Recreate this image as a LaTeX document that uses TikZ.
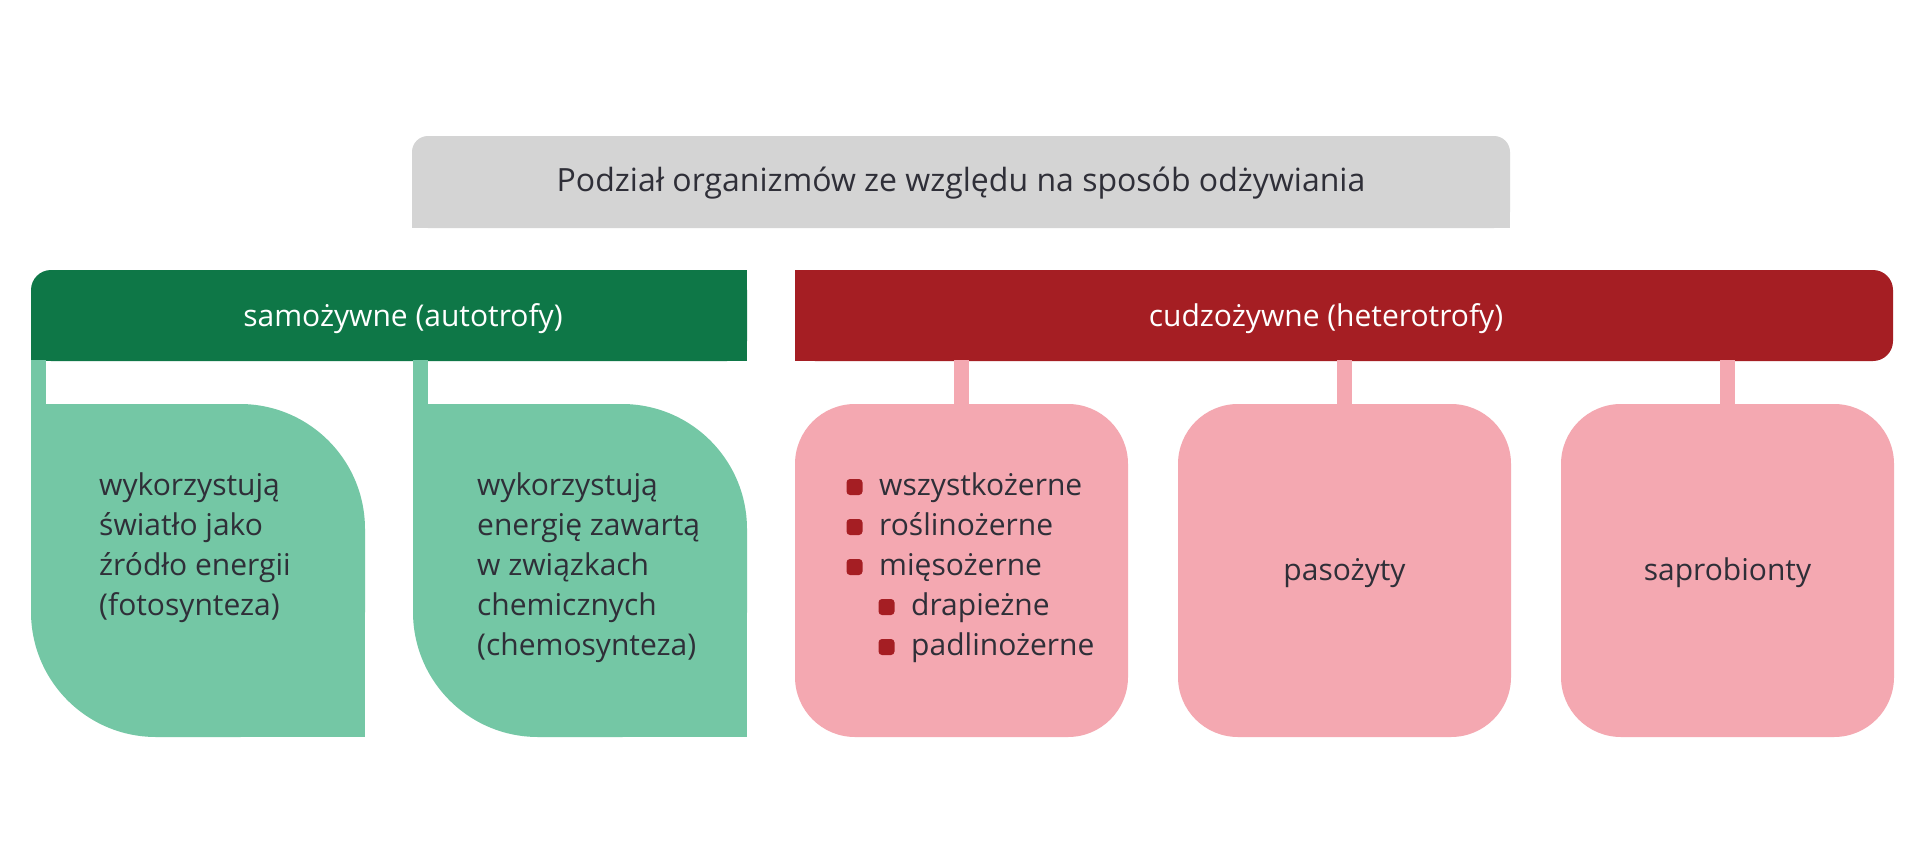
\documentclass[tikz,border=0pt]{standalone}
\usepackage{fontspec}
\setmainfont{Open Sans}
\definecolor{graybox}{HTML}{D4D4D4}
\definecolor{gdark}{HTML}{0E7747}
\definecolor{gleaf}{HTML}{74C7A5}
\definecolor{rdark}{HTML}{A51E23}
\definecolor{pinkbox}{HTML}{F4A8B1}
\definecolor{txt}{HTML}{2F2F38}
\begin{document}
\begin{tikzpicture}[x=1pt,y=-1pt,
  box/.style={inner sep=0pt, outer sep=0pt, anchor=north west},
  titlefont/.style={font=\fontsize{32}{40}\selectfont},
  bodyfont/.style={font=\fontsize{30}{40}\selectfont},
  dtext/.style={bodyfont, text=txt, inner sep=0pt},
  wtext/.style={bodyfont, text=white, inner sep=0pt},
  gconn/.style={draw=gleaf, line width=15pt, shorten <=-1pt, shorten >=-1pt},
  pconn/.style={draw=pinkbox, line width=15pt, shorten <=-1pt, shorten >=-1pt},
  bul/.style={fill=rdark, rounded corners=3.5pt, minimum size=16pt, inner sep=0pt, outer sep=0pt},
  leafbox/.style={box, fill=gleaf, rounded corners=125pt, minimum width=334pt, minimum height=333pt},
  pinkbx/.style={box, fill=pinkbox, rounded corners=60pt, minimum width=333pt, minimum height=333pt}]
\useasboundingbox (0,0) rectangle (1920,843);
\fill[white] (0,0) rectangle (1920,843);

% title box
\node[box, fill=graybox, rounded corners=16pt, minimum width=1098pt, minimum height=92pt] (title) at (412,136) {};
\fill[graybox] (title.west) rectangle (title.south east);

% headers
\node[box, fill=gdark, rounded corners=20pt, minimum width=716pt, minimum height=91pt] (auto) at (31,270) {};
\fill[gdark] (auto.north) rectangle (auto.south east);
\fill[gdark] (auto.west) rectangle (auto.south);
\node[box, fill=rdark, rounded corners=20pt, minimum width=1098pt, minimum height=91pt] (hetero) at (795,270) {};
\fill[rdark] (hetero.north west) rectangle (hetero.south);

% green leaves
\node[leafbox] (leafA) at (31,404) {};
\fill[gleaf] (leafA.north west) rectangle (leafA.center);
\fill[gleaf] (leafA.center) rectangle (leafA.south east);
\node[leafbox] (leafB) at (413,404) {};
\fill[gleaf] (leafB.north west) rectangle (leafB.center);
\fill[gleaf] (leafB.center) rectangle (leafB.south east);

% pink boxes
\node[pinkbx] (pb1) at (795,404) {};
\node[pinkbx] (pb2) at (1178,404) {};
\node[pinkbx] (pb3) at (1561,404) {};

% connectors
\coordinate (ca) at ([xshift=7.5pt]leafA.north west);
\coordinate (cb) at ([xshift=7.5pt]leafB.north west);
\draw[gconn] (ca |- auto.south) -- (ca);
\draw[gconn] (cb |- auto.south) -- (cb);
\draw[pconn] (pb1.north |- hetero.south) -- (pb1.north);
\draw[pconn] (pb2.north |- hetero.south) -- (pb2.north);
\draw[pconn] (pb3.north |- hetero.south) -- (pb3.north);

% texts
\node[titlefont, text=txt, inner sep=0pt, anchor=base] (ttl) at (961,191) {Podział organizmów ze względu na sposób odżywiania};
\node[wtext, anchor=base] (autot) at (403,326) {samożywne (autotrofy)};
\node[wtext, anchor=base] (hett) at (1326,326) {cudzożywne (heterotrofy)};

\node[dtext, align=left, anchor=north west] (la) at (99,467) {\strut wykorzystują\\światło jako\\źródło energii\\(fotosynteza)};
\node[dtext, align=left, anchor=north west] (lb) at (477,467) {\strut wykorzystują\\energię zawartą\\w związkach\\chemicznych\\(chemosynteza)};

\node[bul] (b1) at (854.5,487) {};
\node[bul] (b2) at (854.5,527) {};
\node[bul] (b3) at (854.5,567) {};
\node[bul] (b4) at (886.5,607) {};
\node[bul] (b5) at (886.5,647) {};
\node[dtext, anchor=base west] (t1) at (879,495) {wszystkożerne};
\node[dtext, anchor=base west] (t2) at (879,535) {roślinożerne};
\node[dtext, anchor=base west] (t3) at (879,575) {mięsożerne};
\node[dtext, anchor=base west] (t4) at (911,615) {drapieżne};
\node[dtext, anchor=base west] (t5) at (911,655) {padlinożerne};

\node[dtext, anchor=base] (pas) at (pb2.center |- 0,580) {pasożyty};
\node[dtext, anchor=base] (sap) at (pb3.center |- 0,580) {saprobionty};
\end{tikzpicture}
\end{document}
